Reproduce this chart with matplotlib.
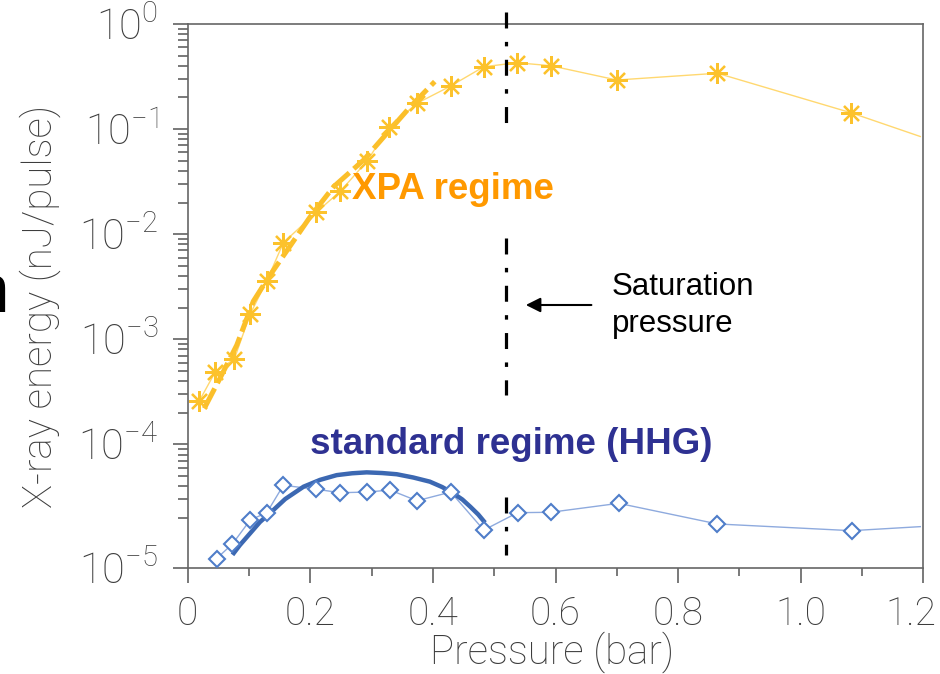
import matplotlib
matplotlib.use("Agg")
import matplotlib.pyplot as plt
from matplotlib.ticker import FixedLocator, FixedFormatter, NullFormatter
from matplotlib.transforms import ScaledTranslation

# XPA regime measurements (asterisks); last entry is where the line leaves the frame
xpa_p = [0.019, 0.045, 0.076, 0.102, 0.129, 0.156, 0.210, 0.249, 0.293, 0.328,
         0.374, 0.429, 0.483, 0.537, 0.592, 0.700, 0.864, 1.082, 1.195]
xpa_e = [2.6e-4, 4.9e-4, 6.5e-4, 1.74e-3, 3.6e-3, 8.3e-3, 0.0162, 0.0256, 0.050, 0.104,
         0.176, 0.257, 0.392, 0.428, 0.401, 0.293, 0.340, 0.143, 0.085]

# XPA fit (thick dashed)
xpa_fit_p = [0.027, 0.053, 0.080, 0.107, 0.132, 0.159, 0.200, 0.238, 0.287, 0.325, 0.363, 0.403]
xpa_fit_e = [2.2e-4, 4.3e-4, 8.8e-4, 2.3e-3, 3.9e-3, 6.6e-3, 0.0147, 0.0283, 0.0508, 0.0912, 0.163, 0.283]

# standard HHG regime measurements (diamonds)
hhg_p = [0.047, 0.073, 0.102, 0.129, 0.156, 0.210, 0.249, 0.293, 0.330, 0.374,
         0.429, 0.483, 0.538, 0.592, 0.703, 0.864, 1.083, 1.195]
hhg_e = [8.2e-6, 1.13e-5, 1.91e-5, 2.24e-5, 4.08e-5, 3.74e-5, 3.47e-5, 3.52e-5, 3.68e-5, 2.91e-5,
         3.52e-5, 1.53e-5, 2.24e-5, 2.26e-5, 2.75e-5, 1.75e-5, 1.51e-5, 1.65e-5]

# HHG fit (thick solid)
hhg_fit_p = [0.073, 0.085, 0.102, 0.118, 0.134, 0.159, 0.189, 0.216, 0.243, 0.268, 0.292,
             0.317, 0.341, 0.368, 0.395, 0.415, 0.433, 0.448, 0.461, 0.474, 0.485]
hhg_fit_e = [8.9e-6, 1.10e-5, 1.43e-5, 1.83e-5, 2.21e-5, 3.02e-5, 3.96e-5, 4.6e-5, 5.1e-5, 5.31e-5, 5.42e-5,
             5.34e-5, 5.2e-5, 4.84e-5, 4.42e-5, 3.93e-5, 3.43e-5, 2.99e-5, 2.55e-5, 2.15e-5, 1.8e-5]

sat_p = 0.52

x_major = [0, 0.2, 0.4, 0.6, 0.8, 1.0, 1.2]
x_labels = ["0", "0.2", "0.4", "0.6", "0.8", "1.0", "1.2"]
x_minor = [0.1, 0.3, 0.5, 0.7, 0.9, 1.1]
y_bottom = 6.67e-6
y_major = [1, 1e-1, 1e-2, 1e-3, 1e-4, y_bottom]
y_labels = [r"$\mathregular{10^{0}}$", r"$\mathregular{10^{-1}}$", r"$\mathregular{10^{-2}}$",
            r"$\mathregular{10^{-3}}$", r"$\mathregular{10^{-4}}$", r"$\mathregular{10^{-5}}$"]
y_minor = [m * 10.0 ** d for d in range(-5, 0) for m in range(2, 10)]

LIGHT = ["Roboto", "DejaVu Sans"]
GREY = "#3c3c3c"

fig = plt.figure(figsize=(9.4, 6.74), dpi=100)
ax = fig.add_axes([0.1997, 0.1573, 0.7826, 0.8071])
ax.set_yscale("log")
ax.set_xlim(0, 1.2)
ax.set_ylim(y_bottom, 1)

# fits
ax.plot(xpa_fit_p, xpa_fit_e, color="#fbbf2a", lw=3.6, dashes=(4.5, 1.2), zorder=3)
ax.plot(hhg_fit_p, hhg_fit_e, color="#3c68b2", lw=3.2, zorder=3, solid_capstyle="butt",
        solid_joinstyle="round")

# measurements
ax.plot(xpa_p, xpa_e, color="#ffd870", lw=1.0, zorder=2)
ax.plot(xpa_p[:-1], xpa_e[:-1], ls="none", marker=(8, 2, 0), ms=15, mew=1.6,
        color="#fcc22c", zorder=4)
ax.plot(hhg_p, hhg_e, color="#8eaade", lw=1.0, zorder=2)
ax.plot(hhg_p[:-1], hhg_e[:-1], ls="none", marker="D", ms=8.5, mew=1.5,
        mfc="white", mec="#4f7dc9", zorder=4)

# saturation pressure marker (broken dash-dot line)
for y0, y1 in [(1.3, 0.098), (0.0092, 2.95e-4), (3.16e-5, 8.9e-6)]:
    ax.plot([sat_p, sat_p], [y0, y1], color="black", lw=2.3,
            dashes=(5, 4.2, 1.4, 4.2), clip_on=False, zorder=5)

ax.text(0.268, 0.0264, "XPA regime", color="#ff9900", fontsize=26.5,
        fontweight="bold", family="Liberation Sans", ha="left", va="center")
ax.text(0.1995, 9.9e-5, "standard regime (HHG)", color="#2e3192", fontsize=26.5,
        fontweight="bold", family="Liberation Sans", ha="left", va="center")
ax.text(0.692, 2.1e-3, "Saturation\npressure", color="black", fontsize=22.5,
        family="Liberation Sans", ha="left", va="center", linespacing=1.3)
ax.annotate("", xy=(0.547, 2.12e-3), xytext=(0.663, 2.12e-3),
            arrowprops=dict(arrowstyle="-|>", color="black", lw=1.5, mutation_scale=22))

# axes styling
for s in ax.spines.values():
    s.set_color("#666666")
    s.set_linewidth(1.2)

ax.xaxis.set_major_locator(FixedLocator(x_major))
ax.xaxis.set_major_formatter(FixedFormatter(x_labels))
ax.xaxis.set_minor_locator(FixedLocator(x_minor))
ax.yaxis.set_major_locator(FixedLocator(y_major))
ax.yaxis.set_major_formatter(FixedFormatter(y_labels))
ax.yaxis.set_minor_locator(FixedLocator(y_minor))
ax.yaxis.set_minor_formatter(NullFormatter())

ax.tick_params(axis="both", which="both", direction="out", color="#555555", width=1.1)
ax.tick_params(axis="x", which="major", length=11, pad=9, labelsize=28, labelcolor=GREY)
ax.tick_params(axis="x", which="minor", length=5.5)
ax.tick_params(axis="y", which="major", length=11, pad=10, labelsize=30, labelcolor=GREY)
ax.tick_params(axis="y", which="minor", length=7)
for lab in ax.get_xticklabels() + ax.get_yticklabels():
    lab.set_family(LIGHT)
    lab.set_fontweight("light")

# last x label sits flush with the right edge, as in the reference
last = ax.get_xticklabels()[-1]
last.set_transform(last.get_transform() + ScaledTranslation(-12 / 100, 0, fig.dpi_scale_trans))

ax.set_xlabel("Pressure (bar)", fontsize=29, color=GREY, family=LIGHT, fontweight="light")
ax.set_ylabel("X-ray energy (nJ/pulse)", fontsize=29, color=GREY, family=LIGHT, fontweight="light")
ax.xaxis.set_label_coords(0.495, -0.155)
ax.xaxis.label.set_va("center")
ax.yaxis.set_label_coords(-0.2, 0.48)
ax.yaxis.label.set_va("center")

# cut-off letter at the left edge
fig.text(0.0095, 1 - 312 / 674, "n", fontsize=50, family="Liberation Sans",
         ha="right", va="baseline", color="black")

fig.savefig("out.png", dpi=100)
